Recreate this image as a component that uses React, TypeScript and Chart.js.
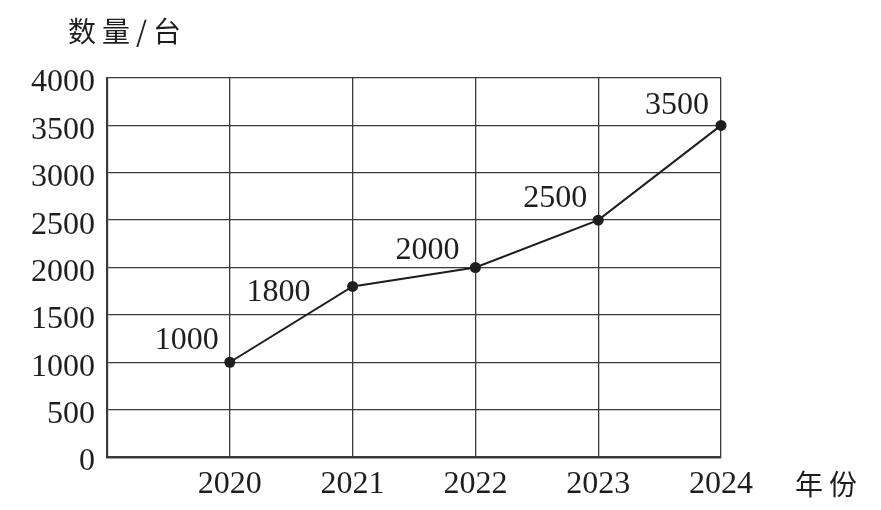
import React, { useEffect, useRef } from "react";
import { Chart, registerables } from "chart.js";

Chart.register(...registerables);

const years = [2020, 2021, 2022, 2023, 2024];
const amounts = [1000, 1800, 2000, 2500, 3500];
const pointLabels = ["1000", "1800", "2000", "2500", "3500"];
const yTicks = [0, 500, 1000, 1500, 2000, 2500, 3000, 3500, 4000];
const yTitle = "数量/台";
const xTitle = "年份";

const SERIF = '"Liberation Serif", "DejaVu Serif", serif';
const CJK = '"Noto Sans CJK SC", sans-serif';
const INK = "#1e1e1e";
const GRID = "#3a3a3a";

// label offsets (px) relative to each point
const labelDX = [-43, -74, -48, -43, -44];
const labelDY = [-13, 15, -9, -13, -11];

const annotations = {
  id: "annotations",
  afterDatasetsDraw(chart: any) {
    const ctx = chart.ctx;
    const area = chart.chartArea;
    const meta = chart.getDatasetMeta(0);
    ctx.save();
    ctx.fillStyle = INK;
    ctx.font = `32px ${SERIF}`;
    ctx.textAlign = "center";
    ctx.textBaseline = "alphabetic";
    meta.data.forEach((pt: any, i: number) => {
      ctx.fillText(pointLabels[i], pt.x + labelDX[i], pt.y + labelDY[i]);
    });
    ctx.font = `28px ${CJK}`;
    ctx.textAlign = "left";
    ctx.textBaseline = "middle";
    try { (ctx as any).letterSpacing = "6px"; } catch (e) {}
    ctx.fillText(yTitle, area.left - 39, 31);
    ctx.fillText(xTitle, area.right + 74, 484);
    ctx.restore();
  },
};

export default function App() {
  const ref = useRef<HTMLCanvasElement | null>(null);
  useEffect(() => {
    if (!ref.current) return;
    const chart = new Chart(ref.current, {
      type: "line",
      data: {
        datasets: [
          {
            data: years.map((y, i) => ({ x: y, y: amounts[i] })),
            borderColor: INK,
            borderWidth: 2,
            pointRadius: 5.5,
            pointBackgroundColor: INK,
            pointBorderColor: INK,
            pointBorderWidth: 0,
            tension: 0,
            clip: false as any,
          },
        ],
      },
      options: {
        animation: false,
        responsive: true,
        maintainAspectRatio: false,
        layout: { padding: { top: 78, right: 160, left: 0, bottom: 0 } },
        plugins: { legend: { display: false }, tooltip: { enabled: false }, title: { display: false } },
        scales: {
          x: {
            type: "linear",
            min: 2019,
            max: 2024,
            afterBuildTicks: (scale: any) => {
              scale.ticks = [2019, ...years].map((v) => ({ value: v }));
            },
            afterFit: (scale: any) => {
              scale.height = 53;
            },
            ticks: {
              padding: 8,
              color: INK,
              font: { family: SERIF, size: 32 },
              maxRotation: 0,
              autoSkip: false,
              callback: (v: any) => (v === 2019 ? "" : String(v)),
            },
            grid: { color: GRID, lineWidth: 1.3, drawTicks: false },
            border: { color: GRID, width: 2.5 },
          },
          y: {
            min: 0,
            max: 4000,
            afterBuildTicks: (scale: any) => {
              scale.ticks = yTicks.map((v) => ({ value: v }));
            },
            afterFit: (scale: any) => {
              scale.width = 107;
            },
            ticks: {
              padding: 12,
              labelOffset: 5,
              color: INK,
              font: { family: SERIF, size: 32 },
              autoSkip: false,
              callback: (v: any) => String(v),
            },
            grid: { color: GRID, lineWidth: 1.3, drawTicks: false },
            border: { color: GRID, width: 2.2 },
          },
        },
      },
      plugins: [annotations],
    });
    return () => chart.destroy();
  }, []);
  return (
    <div style={{ position: "fixed", left: 0, top: 0, width: 881, height: 510, background: "#fff" }}>
      <canvas ref={ref} />
    </div>
  );
}
